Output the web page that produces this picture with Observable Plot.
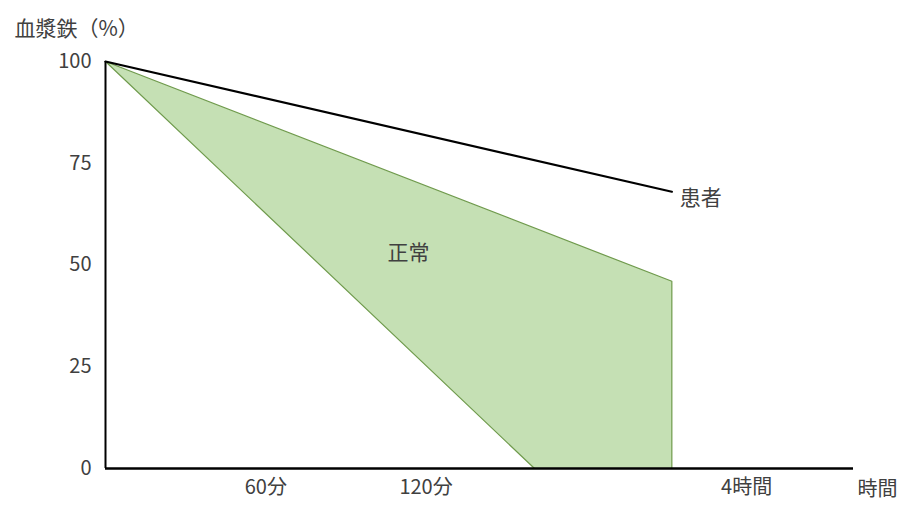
<!DOCTYPE html>
<html>
<head>
<meta charset="utf-8">
<script src="https://cdn.jsdelivr.net/npm/d3@7"></script>
<script src="https://cdn.jsdelivr.net/npm/@observablehq/plot@0.6"></script>
<style>
  html, body { margin: 0; padding: 0; background: #fff; }
  #chart { width: 908px; height: 513px; }
</style>
</head>
<body>
<div id="chart"></div>
<script>
// Data
const yTicks = [0, 25, 50, 75, 100];
const xTickValues = [60, 120, 240];
const xTickLabels = ["60分", "120分", "4時間"];
const patientX = [0, 212];
const patientY = [100, 68];
const normalX = [0, 212, 212, 160.6, 0];
const normalY = [100, 46, 0, 0, 100];
const yTitle = "血漿鉄（%）";
const xTitle = "時間";
const patientLabel = "患者";
const normalLabel = "正常";

const patient = patientX.map((x, i) => ({x, y: patientY[i]}));
const normal = normalX.map((x, i) => ({x, y: normalY[i]}));

const font = "'Noto Sans CJK JP', 'Noto Sans', sans-serif";
const textColor = "#404040";
const fs = 20;

const chart = Plot.plot({
  width: 908,
  height: 513,
  marginTop: 61,
  marginBottom: 45,
  marginLeft: 105,
  marginRight: 55,
  style: {fontFamily: font, fontSize: fs + "px", color: textColor, background: "#fff"},
  x: {domain: [0, 280]},
  y: {domain: [0, 100]},
  marks: [
    Plot.line(normal, {x: "x", y: "y", fill: "#c5e0b4", stroke: "#6f9a4c", strokeWidth: 1.2, curve: "linear"}),
    Plot.line(patient, {x: "x", y: "y", stroke: "#000", strokeWidth: 2.2}),
    Plot.ruleX([0], {stroke: "#000", strokeWidth: 2}),
    Plot.ruleY([0], {stroke: "#000", strokeWidth: 2.5}),
    Plot.axisY({ticks: yTicks, tickSize: 0, tickPadding: 14, label: null, fontSize: fs, fill: textColor}),
    Plot.axisX({ticks: xTickValues, tickFormat: (d) => xTickLabels[xTickValues.indexOf(d)], tickSize: 0, tickPadding: 11, label: null, fontSize: fs, fill: textColor}),
    Plot.text([yTitle], {frameAnchor: "top-left", textAnchor: "start", dx: -91, dy: -40, fontSize: 21, fill: textColor}),
    Plot.text([xTitle], {frameAnchor: "bottom-right", textAnchor: "end", dx: 44, dy: 27, fontSize: fs, fill: textColor}),
    Plot.text([patientLabel], {x: () => 215, y: () => 66.5, textAnchor: "start", fontSize: 21, fill: textColor}),
    Plot.text([normalLabel], {x: () => 113.4, y: () => 52.8, fontSize: 21, fill: textColor})
  ]
});
document.getElementById("chart").appendChild(chart);
</script>
</body>
</html>
